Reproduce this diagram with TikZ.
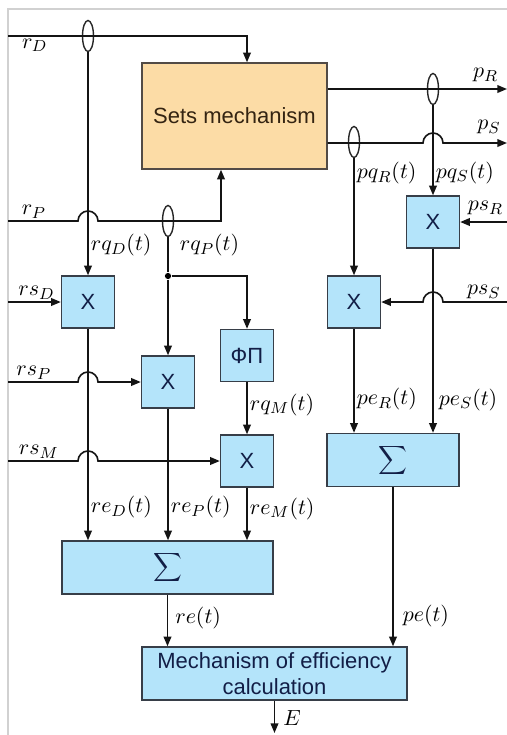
\documentclass[tikz,border=0pt]{standalone}
\usepackage{fontspec}
\setmainfont{Liberation Sans}
\usetikzlibrary{arrows.meta,calc,shapes.geometric}
\definecolor{boxblue}{RGB}{180,228,250}
\definecolor{boxorange}{RGB}{252,220,166}
\definecolor{boxedge}{RGB}{55,62,72}
\definecolor{ink}{RGB}{18,30,70}
\definecolor{brownink}{RGB}{52,36,18}
\tikzset{
    set diagram/.style = {x=0.5pt, y=-0.5pt,
                          >={Triangle[length=4.8pt, width=3.8pt]}},
    line/.style        = {line width=0.8pt, draw=black!92},
    block/.style       = {draw=boxedge, line width=0.7pt, fill=boxblue,
                          text=ink, inner sep=1pt,
                          font=\fontsize{11}{13}\selectfont},
    mult/.style        = {block, minimum width=26.5pt, minimum height=26pt},
    sumblock/.style    = {block, minimum height=26.5pt,
                          font=\fontsize{13}{15}\selectfont},
    setsblock/.style   = {draw=boxedge!80!brown, line width=0.7pt,
                          fill=boxorange, text=brownink,
                          minimum width=92.5pt, minimum height=53pt,
                          font=\fontsize{11}{13}\selectfont},
    tap/.style         = {draw=black!85, line width=0.7pt, ellipse,
                          minimum width=5.5pt, minimum height=15.5pt,
                          inner sep=0pt},
    junction/.style    = {circle, fill=black, inner sep=1.1pt},
    sig/.style         = {font=\fontsize{11}{13}\selectfont, inner sep=1pt},
    frame/.style       = {draw=black!18, line width=0.8pt}
}
\def\leftedge{8}
\def\rightedge{507}
\def\colD{88}
\def\colP{168}
\def\colM{247}
\def\colR{354}
\def\colS{433}

\begin{document}
\begin{tikzpicture}[set diagram]
\useasboundingbox (0,0) rectangle (507,735);
\draw[frame] (\rightedge,9) -| (\leftedge,735);

% blocks
\node[setsblock] (sets) at (234.5,116) {Sets mechanism};
\node[mult] (xD) at (\colD,302) {X};
\node[mult] (xP) at (\colP,382) {X};
\node[mult] (fp) at (\colM,355.5) {ФП};
\node[mult] (xM) at (\colM,461) {X};
\node[sumblock, minimum width=105.5pt] (sumL) at (167.5,567.5)
  {$\displaystyle\sum$};
\node[mult] (xS) at (\colS,222) {X};
\node[mult] (xR) at (\colR,302) {X};
\node[sumblock, minimum width=66pt] (sumR) at (393,460) {$\displaystyle\sum$};
\node[block, minimum width=132.5pt, minimum height=26.5pt, align=center]
  (eff) at (274.5,673.5) {Mechanism of efficiency\\calculation};

% free ends
\coordinate (rD in) at (\leftedge,36);
\coordinate (rP in) at (\leftedge,221);
\coordinate (rP turn) at (221,221);
\coordinate (rsD in) at (\leftedge,302);
\coordinate (rsP in) at (\leftedge,382);
\coordinate (rsM in) at (\leftedge,461);
\coordinate (pR out) at (\rightedge,89);
\coordinate (pS out) at (\rightedge,143);
\coordinate (psR in) at (\rightedge,222);
\coordinate (psS in) at (\rightedge,302);
\coordinate (E out) at (274.5,733);

% branch points
\node[tap] (tapD) at (\colD,36) {};
\node[tap] (tapP) at (\colP,221) {};
\node[tap] (tapS) at (\colS,89) {};
\node[tap] (tapR) at (\colR,142) {};
\node[junction] (jP) at (\colP,276) {};

% r-signals into the sets mechanism
\draw[->, line] (rD in)
  -| node[sig, below, pos=0.056] (lrD) {$r_D$} (sets.north -| xM);
\draw[->, line] (rP in)
  -- node[sig, above, pos=0.37] (lrP) {$r_P$}
  ($(rP in -| tapD)+(-10,0)$) arc[start angle=180, end angle=0, radius=5pt]
  -- (rP turn) -- (sets.south -| rP turn);

% left chain
\draw[->, line] (tapD.south)
  -- node[sig, right, pos=0.866] (lrqD) {$rq_D(t)$} (xD.north);
\draw[line] (tapP.south)
  -- node[sig, right, pos=0.23, xshift=4.5pt] (lrqP) {$rq_P(t)$} (jP);
\draw[->, line] (jP) -- (xP.north);
\draw[->, line] (jP) -| (fp.north);
\draw[->, line] (fp.south)
  -- node[sig, right, pos=0.43] (lrqM) {$rq_M(t)$} (xM.north);
\draw[->, line] (rsD in)
  -- node[sig, above, pos=0.54] (lrsD) {$rs_D$} (xD.west);
\draw[->, line] (rsP in)
  -- node[sig, above, pos=0.37] (lrsP) {$rs_P$}
  ($(rsP in -| xD)+(-10,0)$) arc[start angle=180, end angle=0, radius=5pt]
  -- (xP.west);
\draw[->, line] (rsM in)
  -- node[sig, above, pos=0.44] (lrsM) {$rs_M$}
  ($(rsM in -| xD)+(-10,0)$) arc[start angle=180, end angle=0, radius=5pt]
  -- (xM.west);
\draw[->, line] (xD.south)
  -- node[sig, right, pos=0.845] (lreD) {$re_D(t)$} (sumL.north -| xD);
\draw[->, line] (xP.south)
  -- node[sig, right, pos=0.75] (lreP) {$re_P(t)$} (sumL.north -| xP);
\draw[->, line] (xM.south)
  -- node[sig, right, pos=0.4] (lreM) {$re_M(t)$} (sumL.north -| xM);
\draw[->, line] (sumL.south)
  -- node[sig, right, pos=0.45, xshift=2.5pt] (lre) {$re(t)$}
  (eff.north -| sumL);

% right chain
\draw[->, line] (sets.east |- pR out)
  -- node[sig, above, pos=0.88, yshift=2pt] (lpR) {$p_R$} (pR out);
\draw[->, line] (sets.east |- pS out)
  -- ($(pS out -| tapS)+(-10,0)$) arc[start angle=180, end angle=0, radius=5pt]
  -- node[sig, above, pos=0.72, yshift=3pt] (lpS) {$p_S$} (pS out);
\draw[->, line] (tapR.south)
  -- node[sig, right, pos=0.13] (lpqR) {$pq_R(t)$} (xR.north);
\draw[->, line] (tapS.south)
  -- node[sig, right, pos=0.75] (lpqS) {$pq_S(t)$} (xS.north);
\draw[->, line] (psR in)
  -- node[sig, above, pos=0.46, yshift=2pt] (lpsR) {$ps_R$} (xS.east);
\draw[->, line] (psS in)
  -- node[sig, above, pos=0.36] (lpsS) {$ps_S$}
  ($(psS in -| tapS)+(10,0)$) arc[start angle=0, end angle=180, radius=5pt]
  -- (xR.east);
\draw[->, line] (xR.south)
  -- node[sig, right, pos=0.68] (lpeR) {$pe_R(t)$} (sumR.north -| xR);
\draw[->, line] (xS.south)
  -- node[sig, right, pos=0.82, xshift=1.5pt] (lpeS) {$pe_S(t)$}
  (sumR.north -| xS);
\draw[->, line] (sumR.south)
  -- node[sig, right, pos=0.81, xshift=3.5pt] (lpe) {$pe(t)$}
  (eff.north -| sumR);

% efficiency output
\draw[->, line] (eff.south)
  -- node[sig, right, pos=0.55, xshift=3pt] (lE) {$E$} (E out);

\end{tikzpicture}
\end{document}
